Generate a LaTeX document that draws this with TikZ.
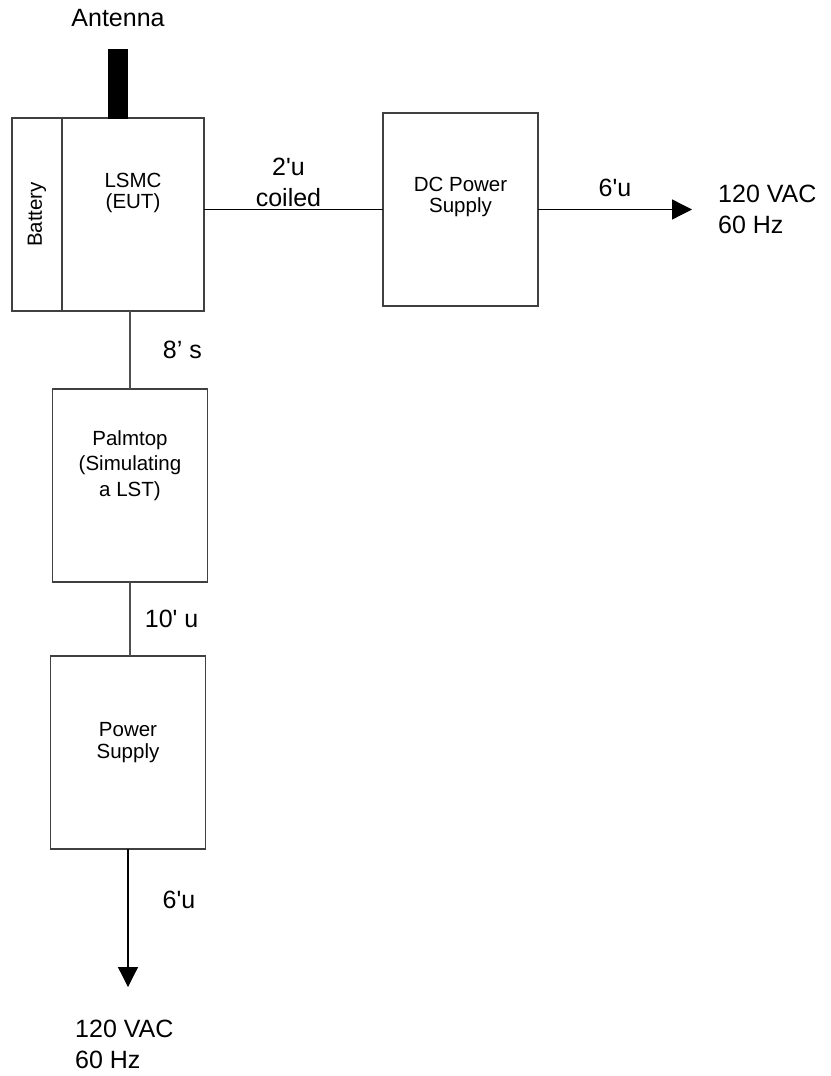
\documentclass[tikz,border=0pt]{standalone}
\usepackage{fontspec}
\setmainfont{Liberation Sans}
\usepackage{tikz}
\usetikzlibrary{arrows.meta, positioning}
\definecolor{boxgray}{RGB}{64,64,64}
\definecolor{wiregray}{RGB}{80,80,80}
\tikzset{
  block/.style={rectangle, draw=boxgray, line width=1.6pt, outer sep=0pt,
    inner sep=0pt, minimum width=155pt, minimum height=193pt},
  boxtext/.style={font=\fontsize{20.5}{20.5}\selectfont, align=center, inner sep=0pt},
  cablelbl/.style={font=\fontsize{25}{31}\selectfont, align=center, inner sep=2pt, text=black},
  acnode/.style={font=\fontsize{25}{31}\selectfont, align=left, inner sep=0pt},
  line/.style={line width=1.3pt, color=black},
  vline/.style={line width=1.8pt, color=wiregray},
  arrow/.style={-{Triangle[length=20pt, width=20pt]}, line width=1.3pt, color=black}
}

\begin{document}
\begin{tikzpicture}[x=1pt, y=-1pt]
  \useasboundingbox (0,0) rectangle (830,1076);

  % unit under test with its battery
  \node[block, minimum width=50pt] (battery) at (37,214.5) {\fontsize{20.5}{19}\selectfont\rotatebox{90}{Battery}};
  \node[block, minimum width=142pt, right=0pt of battery,
    label={[boxtext, below=55pt]north:{LSMC\\(EUT)}}] (lsmc) {};
  \node[fill=black, inner sep=0pt, minimum width=20pt, minimum height=70pt,
    above=-1pt of lsmc.north, xshift=-15pt] (antenna) {};
  \node[cablelbl, above=20pt of antenna] (antlbl) {Antenna};

  \node[block, right=179pt of lsmc, yshift=5pt,
    label={[boxtext, below=64pt]north:{DC Power\\Supply}}] (dc) {};
  \node[block, below=78pt of lsmc, xshift=-3pt,
    label={[boxtext, font=\fontsize{20.5}{25.5}\selectfont, below=41pt]north:{Palmtop\\(Simulating\\a LST)}}] (palmtop) {};
  \node[block, below=74pt of palmtop, xshift=-2pt,
    label={[boxtext, font=\fontsize{20.5}{22}\selectfont, below=66pt]north:{Power\\Supply}}] (psu) {};

  % mains ends
  \coordinate[right=154pt of dc.east] (acright);
  \coordinate[below=138pt of psu.south] (acdown);
  \node[acnode, right=26pt of acright] (acin1) {120 VAC\\60 Hz};
  \node[acnode, below right=33pt and -53pt of acdown] (acin2) {120 VAC\\60 Hz};

  % cables
  \draw[line] (dc.west -| lsmc.east) -- node[cablelbl, above, xshift=-5pt] {2\textquotesingle u\\coiled} (dc.west);
  \draw[arrow] (dc.east) -- node[cablelbl, above=10pt] {6\textquotesingle u} (acright);
  \draw[vline] (palmtop.north |- lsmc.south) -- node[cablelbl, right=30pt] {8’ s} (palmtop.north);
  \draw[vline] (palmtop.south) -- node[cablelbl, right=12pt] {10\textquotesingle{} u} (palmtop.south |- psu.north);
  \draw[arrow] (psu.south) -- node[cablelbl, pos=0.37, right=32pt] {6\textquotesingle u} (acdown);
\end{tikzpicture}
\end{document}
